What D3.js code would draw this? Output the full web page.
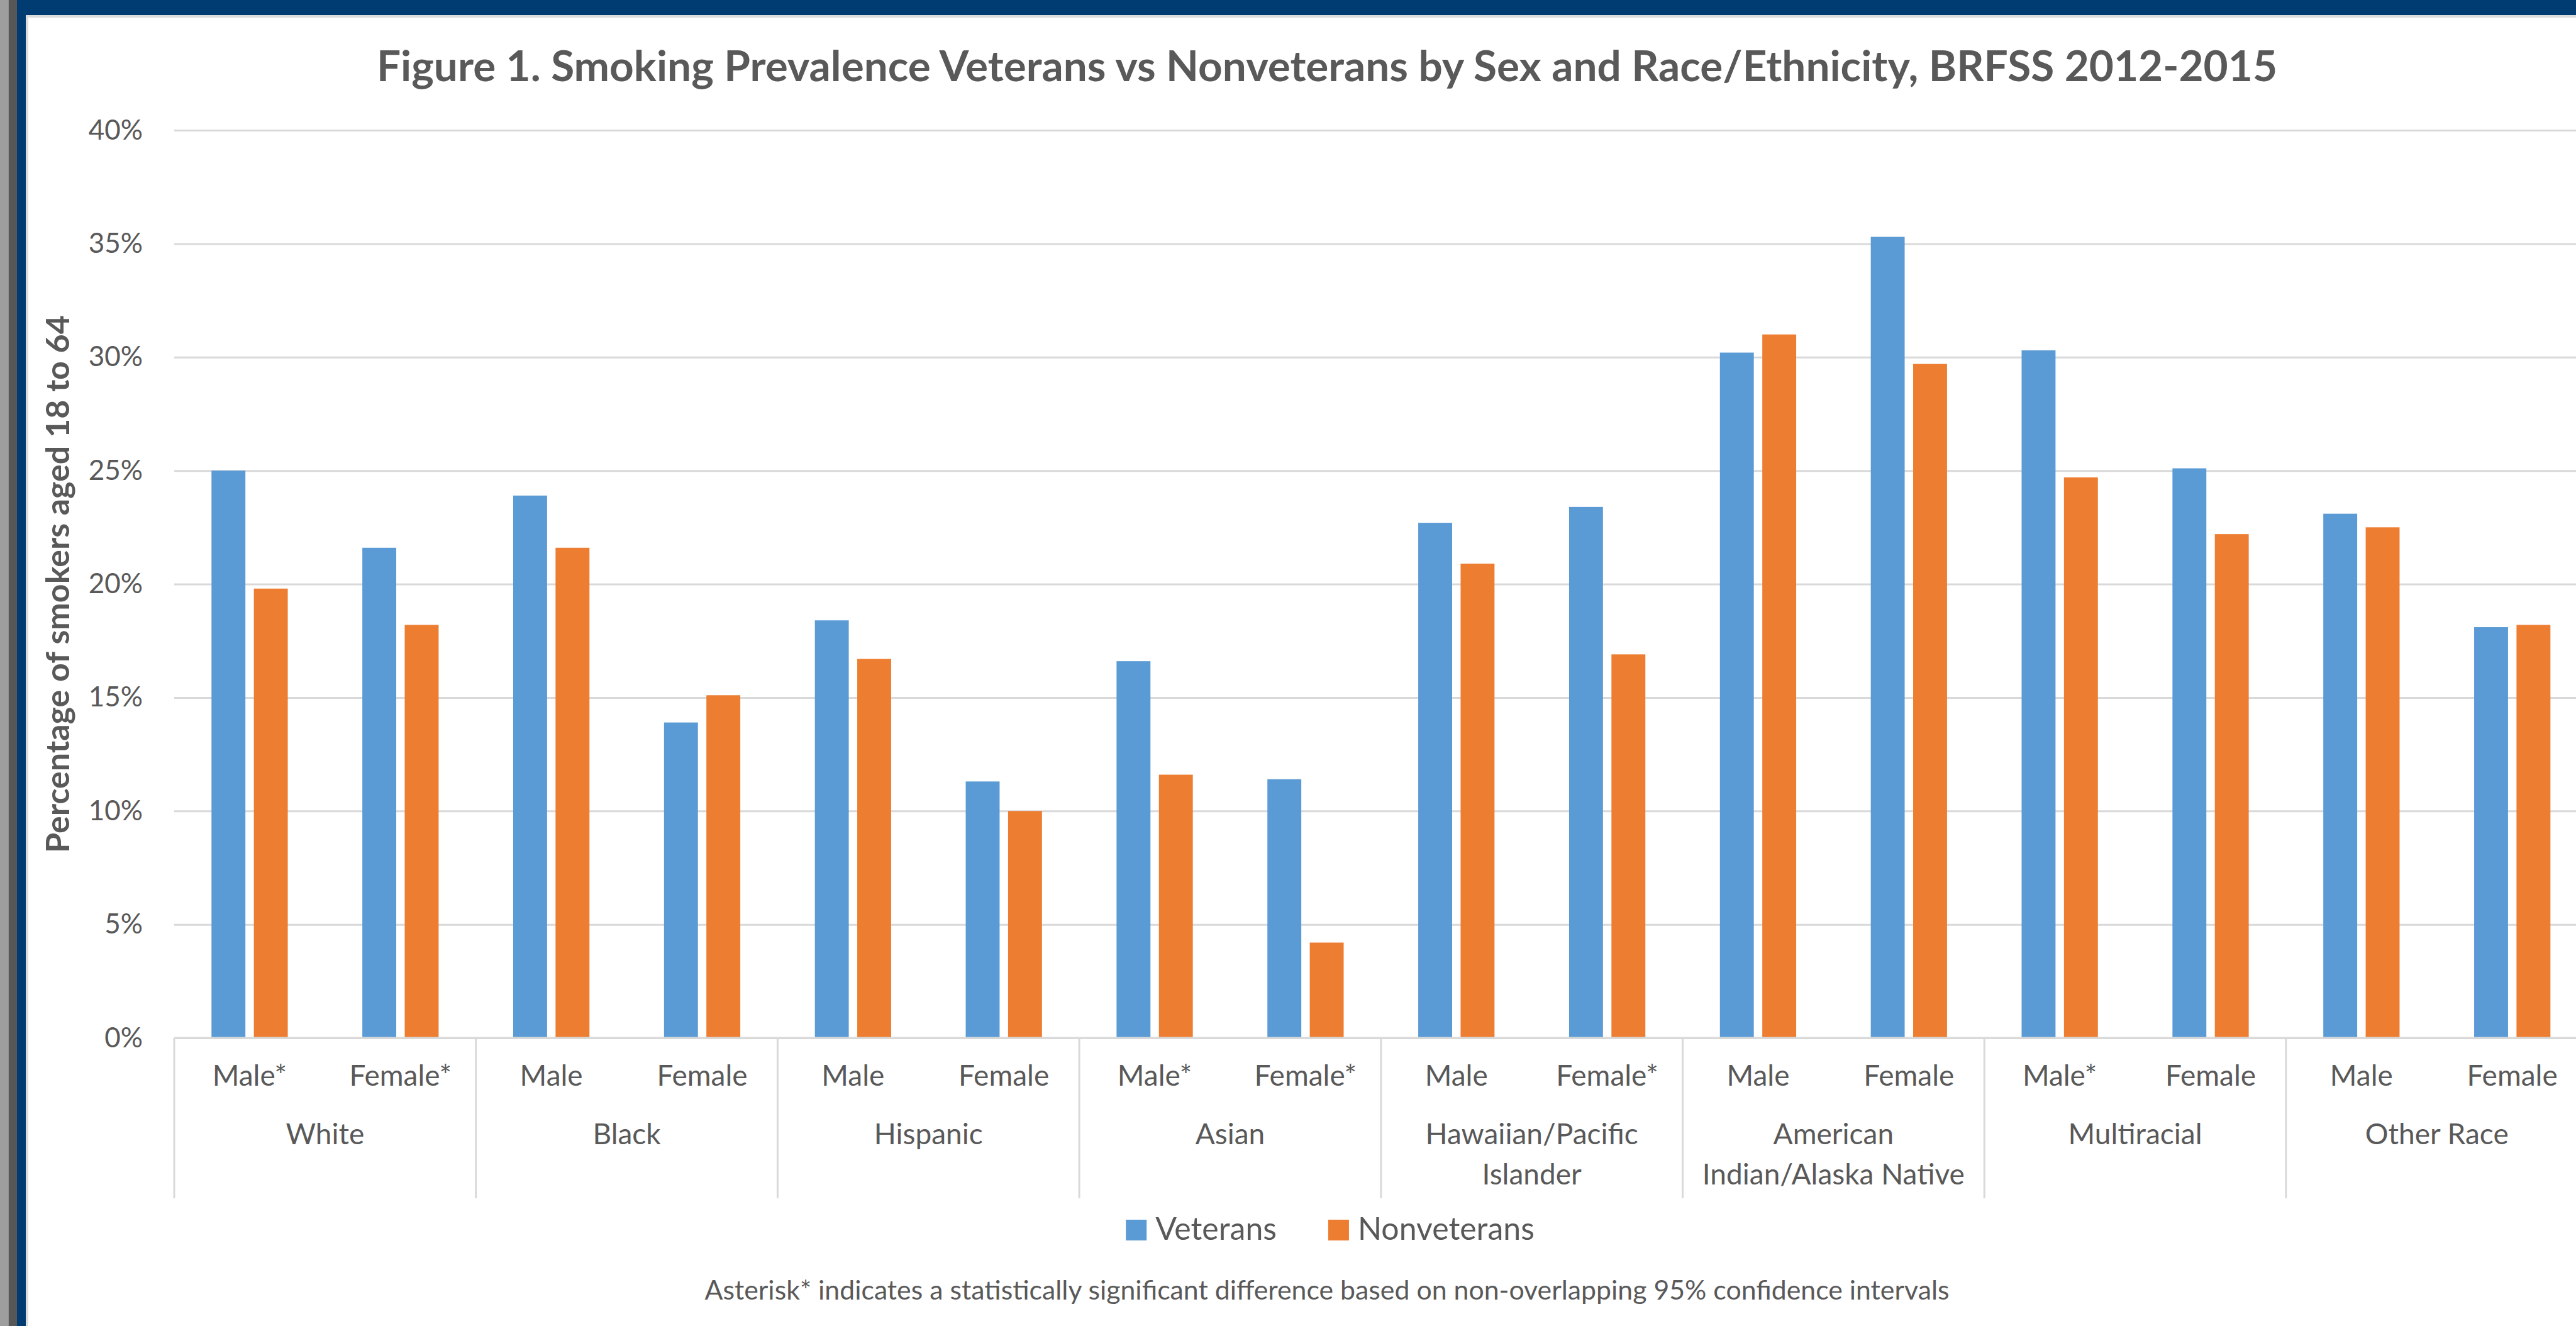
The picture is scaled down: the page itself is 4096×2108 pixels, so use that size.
<!DOCTYPE html>
<html>
<head>
<meta charset="utf-8">
<script src="https://cdn.jsdelivr.net/npm/d3@7"></script>
<style>
  html, body { margin: 0; padding: 0; background: #fff; overflow: hidden; }
  text { font-family: Lato, "Open Sans", sans-serif; fill: #595959; }
</style>
</head>
<body>
<div id="chart"></div>
<script>
const groupLabels = [
  ['White'], ['Black'], ['Hispanic'], ['Asian'],
  ['Hawaiian/Pacific', 'Islander'], ['American', 'Indian/Alaska Native'],
  ['Multiracial'], ['Other Race']
];
const subLabels = [
  'Male*', 'Female*', 'Male', 'Female', 'Male', 'Female', 'Male*', 'Female*',
  'Male', 'Female*', 'Male', 'Female', 'Male*', 'Female', 'Male', 'Female'
];
const seriesNames = ['Veterans', 'Nonveterans'];
const veterans = [25.0, 21.6, 23.9, 13.9, 18.4, 11.3, 16.6, 11.4, 22.7, 23.4, 30.2, 35.3, 30.3, 25.1, 23.1, 18.1];
const nonveterans = [19.8, 18.2, 21.6, 15.1, 16.7, 10.0, 11.6, 4.2, 20.9, 16.9, 31.0, 29.7, 24.7, 22.2, 22.5, 18.2];
const yTicks = [0, 5, 10, 15, 20, 25, 30, 35, 40];
const colors = ['#5B9BD5', '#ED7D31'];

const W = 4096, H = 2108;
const PLOT = { left: 277, right: 277 + 8 * 479.7, top: 207, bottom: 1650 };

const svg = d3.select('#chart').append('svg')
  .attr('width', W).attr('height', H)
  .attr('viewBox', `0 0 ${W} ${H}`);

// frame: grey strips, navy band, thin light edge
svg.append('rect').attr('x', 0).attr('y', 0).attr('width', W).attr('height', H).attr('fill', '#fff');
svg.append('rect').attr('x', 0).attr('y', 0).attr('width', 13.5).attr('height', H).attr('fill', '#9e9e9e');
svg.append('rect').attr('x', 13.5).attr('y', 0).attr('width', 13.5).attr('height', H).attr('fill', '#575757');
svg.append('rect').attr('x', 27).attr('y', 0).attr('width', 14).attr('height', H).attr('fill', '#003B71');
svg.append('rect').attr('x', 27).attr('y', 0).attr('width', W).attr('height', 24).attr('fill', '#003B71');
svg.append('rect').attr('x', 41).attr('y', 24).attr('width', W).attr('height', 4).attr('fill', '#dcdcdc');
svg.append('rect').attr('x', 41).attr('y', 24).attr('width', 4).attr('height', H).attr('fill', '#dcdcdc');

const y = d3.scaleLinear().domain([0, 40]).range([PLOT.bottom, PLOT.top]);
const xGroup = d3.scaleBand().domain(d3.range(groupLabels.length)).range([PLOT.left, PLOT.right]);
const xSub = d3.scaleBand().domain(d3.range(subLabels.length)).range([PLOT.left, PLOT.right]);
const xSeries = d3.scaleBand().domain(seriesNames).range([0, xSub.bandwidth()])
  .paddingInner(0.2).paddingOuter(0.88);

// y axis + gridlines
const yAxis = svg.append('g').attr('transform', `translate(${PLOT.left},0)`)
  .call(d3.axisLeft(y).tickValues(yTicks).tickFormat((d) => d + '%')
    .tickSize(-(PLOT.right - PLOT.left)).tickPadding(50));
yAxis.select('.domain').remove();
yAxis.selectAll('.tick line').attr('stroke', '#d9d9d9').attr('stroke-width', 3);
yAxis.selectAll('.tick text').attr('font-size', 44).attr('fill', '#595959')
  .attr('font-family', 'Lato, sans-serif');

// bars
const table = subLabels.map((label, i) => ({ i, values: [veterans[i], nonveterans[i]] }));
const cat = svg.append('g').selectAll('g').data(table).join('g')
  .attr('transform', (d) => `translate(${xSub(d.i)},0)`);
cat.selectAll('rect').data((d) => d.values.map((v, k) => ({ v, k })))
  .join('rect')
  .attr('x', (d) => xSeries(seriesNames[d.k]))
  .attr('width', xSeries.bandwidth())
  .attr('y', (d) => y(d.v))
  .attr('height', (d) => y(0) - y(d.v))
  .attr('fill', (d) => colors[d.k]);

// category axis
const axisG = svg.append('g');
axisG.append('line')
  .attr('x1', PLOT.left).attr('x2', PLOT.right)
  .attr('y1', y(0)).attr('y2', y(0))
  .attr('stroke', '#d9d9d9').attr('stroke-width', 3);
axisG.selectAll('line.sep').data(d3.range(groupLabels.length + 1)).join('line')
  .attr('class', 'sep')
  .attr('x1', (k) => PLOT.left + k * xGroup.step()).attr('x2', (k) => PLOT.left + k * xGroup.step())
  .attr('y1', y(0)).attr('y2', 1905)
  .attr('stroke', '#d9d9d9').attr('stroke-width', 3);
axisG.selectAll('text.sub').data(subLabels).join('text')
  .attr('class', 'sub')
  .attr('x', (d, i) => xSub(i) + xSub.bandwidth() / 2)
  .attr('y', 1726)
  .attr('text-anchor', 'middle').attr('font-size', 46)
  .text((d) => d);
const gl = axisG.selectAll('text.grp').data(groupLabels).join('text')
  .attr('class', 'grp')
  .attr('text-anchor', 'middle').attr('font-size', 46);
gl.selectAll('tspan').data((d, i) => d.map((t) => ({ t, i }))).join('tspan')
  .attr('x', (d) => xGroup(d.i) + xGroup.bandwidth() / 2)
  .attr('y', (d, j) => 1819 + j * 64)
  .text((d) => d.t);

// titles
svg.append('text')
  .attr('x', 2110).attr('y', 129)
  .attr('text-anchor', 'middle').attr('font-size', 67.5).attr('font-weight', 700)
  .text('Figure 1. Smoking Prevalence Veterans vs Nonveterans by Sex and Race/Ethnicity, BRFSS 2012-2015');
svg.append('text')
  .attr('transform', `translate(110,${(PLOT.top + PLOT.bottom) / 2}) rotate(-90)`)
  .attr('text-anchor', 'middle').attr('font-size', 52).attr('font-weight', 700)
  .text('Percentage of smokers aged 18 to 64');

// legend
const legend = svg.append('g');
const items = legend.selectAll('g').data(seriesNames).join('g');
items.append('rect').attr('width', 33).attr('height', 33).attr('y', -32)
  .attr('fill', (d, k) => colors[k]);
items.append('text').attr('x', 47).attr('font-size', 50).text((d) => d);
let cursor = 0;
const offsets = [];
items.each(function (d, k) {
  offsets.push(cursor);
  const w = this.querySelector('text').getComputedTextLength();
  cursor += 47 + w + (k < seriesNames.length - 1 ? 82 : 0);
});
const legendStart = 2115 - cursor / 2;
items.attr('transform', (d, k) => `translate(${legendStart + offsets[k]},1971)`);

// footnote
svg.append('text')
  .attr('x', 2110).attr('y', 2066)
  .attr('text-anchor', 'middle').attr('font-size', 42.8)
  .text('Asterisk* indicates a statistically significant difference based on non-overlapping 95% confidence intervals');
</script>
</body>
</html>
